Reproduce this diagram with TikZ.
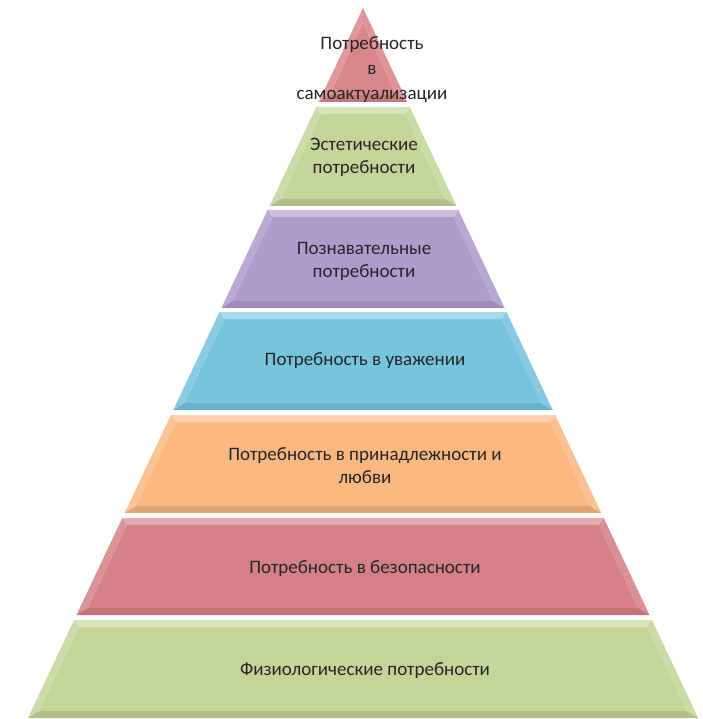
\documentclass[tikz,border=0pt]{standalone}
\usepackage{fontspec}
\setmainfont{Carlito}
\usepackage{tikz}
\usetikzlibrary{positioning,calc}

\definecolor{apexred}{RGB}{217,134,138}
\definecolor{levgreen}{RGB}{195,214,152}
\definecolor{levpurple}{RGB}{174,156,204}
\definecolor{levblue}{RGB}{118,196,222}
\definecolor{levorange}{RGB}{248,184,128}
\definecolor{levred}{RGB}{212,128,134}

% one level of the pyramid: top y, bottom y, colour
\newcommand{\tier}[3]{%
  \pgfmathsetmacro{\wto}{(#1-8)*0.472}%
  \pgfmathsetmacro{\wbo}{(#2-8)*0.472}%
  \pgfmathsetmacro{\yti}{max(#1+7,8+7/0.472)}%
  \pgfmathsetmacro{\ybi}{#2-7}%
  \pgfmathsetmacro{\wti}{max((\yti-8)*0.472-8,0)}%
  \pgfmathsetmacro{\wbi}{(\ybi-8)*0.472-8}%
  \fill[#3] (363-\wti,\yti) -- (363+\wti,\yti) -- (363+\wbi,\ybi) -- (363-\wbi,\ybi) -- cycle;
  \fill[#3!65!white] (363-\wto,#1) -- (363+\wto,#1) -- (363+\wti,\yti) -- (363-\wti,\yti) -- cycle;
  \fill[#3!85!white] (363-\wto,#1) -- (363-\wti,\yti) -- (363-\wbi,\ybi) -- (363-\wbo,#2) -- cycle;
  \fill[#3!88!white] (363+\wto,#1) -- (363+\wti,\yti) -- (363+\wbi,\ybi) -- (363+\wbo,#2) -- cycle;
  \fill[#3!90!black] (363-\wbo,#2) -- (363+\wbo,#2) -- (363+\wbi,\ybi) -- (363-\wbi,\ybi) -- cycle;
}

\begin{document}
\begin{tikzpicture}[
    x=1pt, y=-1pt,
    lvl/.style={
        align=center,
        inner sep=0pt,
        text=black!85,
        font=\fontsize{19}{23}\selectfont
    }
]
\useasboundingbox (0,0) rectangle (702,719);

\tier{8}{102}{apexred}
\tier{107}{206}{levgreen}
\tier{210}{308}{levpurple}
\tier{312}{410}{levblue}
\tier{415}{513}{levorange}
\tier{518}{615}{levred}
\tier{620}{718}{levgreen}

\node[lvl, font=\fontsize{19}{25}\selectfont] (selfact) at (372,70) {Потребность\\в\\самоактуализации};
\node[lvl] (aesth) at (364,157) {Эстетические\\потребности};
\node[lvl] (cogn) at (364,261) {Познавательные\\потребности};
\node[lvl] (esteem) at (365,361) {Потребность в уважении};
\node[lvl] (love) at (365,466) {Потребность в принадлежности и\\любви};
\node[lvl] (safety) at (365,569) {Потребность в безопасности};
\node[lvl] (phys) at (365,671) {Физиологические потребности};
\end{tikzpicture}
\end{document}
